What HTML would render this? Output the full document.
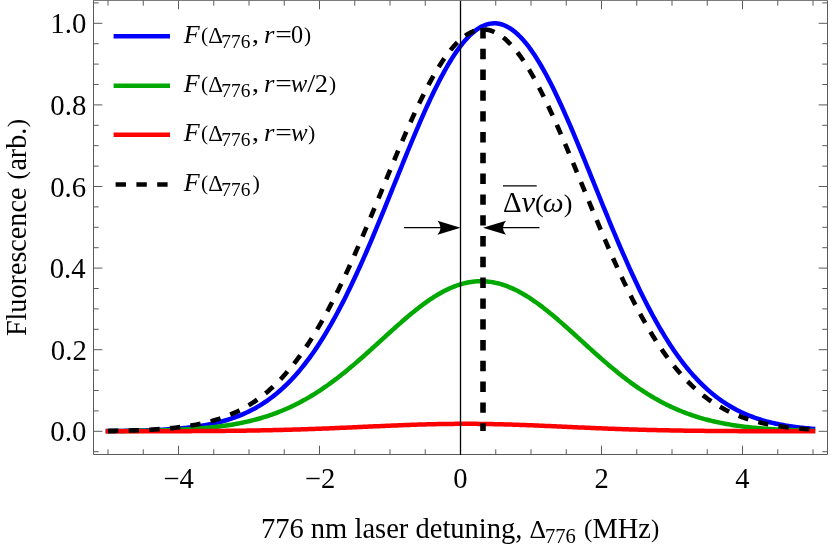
<!DOCTYPE html>
<html><head><meta charset="utf-8"><title>Fluorescence vs detuning</title>
<style>html,body{margin:0;padding:0;background:#fff;}body{width:830px;height:550px;overflow:hidden;font-family:"Liberation Serif",serif;}</style>
</head><body>
<svg width="830" height="550" viewBox="0 0 830 550" style="display:block">
<rect width="830" height="550" fill="#fff"/>
<path d="M108.00,431.07 L109.76,431.06 L111.52,431.04 L113.29,431.02 L115.05,431.00 L116.81,430.98 L118.58,430.96 L120.34,430.93 L122.10,430.91 L123.86,430.88 L125.62,430.86 L127.39,430.83 L129.15,430.79 L130.91,430.76 L132.67,430.72 L134.44,430.69 L136.20,430.65 L137.96,430.60 L139.73,430.56 L141.49,430.51 L143.25,430.46 L145.01,430.41 L146.77,430.35 L148.54,430.29 L150.30,430.22 L152.06,430.16 L153.83,430.09 L155.59,430.01 L157.35,429.93 L159.11,429.85 L160.88,429.76 L162.64,429.67 L164.40,429.57 L166.16,429.46 L167.92,429.35 L169.69,429.24 L171.45,429.12 L173.21,428.99 L174.98,428.86 L176.74,428.71 L178.50,428.56 L180.26,428.41 L182.02,428.24 L183.79,428.07 L185.55,427.89 L187.31,427.70 L189.08,427.50 L190.84,427.29 L192.60,427.07 L194.36,426.83 L196.12,426.59 L197.89,426.34 L199.65,426.07 L201.41,425.79 L203.18,425.50 L204.94,425.19 L206.70,424.88 L208.46,424.54 L210.23,424.19 L211.99,423.83 L213.75,423.44 L215.51,423.05 L217.27,422.63 L219.04,422.20 L220.80,421.74 L222.56,421.27 L224.33,420.78 L226.09,420.27 L227.85,419.73 L229.61,419.18 L231.38,418.60 L233.14,417.99 L234.90,417.37 L236.66,416.72 L238.43,416.04 L240.19,415.33 L241.95,414.60 L243.71,413.84 L245.48,413.05 L247.24,412.24 L249.00,411.39 L250.76,410.51 L252.53,409.60 L254.29,408.65 L256.05,407.67 L257.81,406.66 L259.57,405.61 L261.34,404.53 L263.10,403.40 L264.86,402.25 L266.62,401.05 L268.39,399.81 L270.15,398.53 L271.91,397.21 L273.68,395.85 L275.44,394.44 L277.20,392.99 L278.96,391.50 L280.73,389.96 L282.49,388.38 L284.25,386.74 L286.01,385.06 L287.77,383.34 L289.54,381.56 L291.30,379.73 L293.06,377.86 L294.83,375.93 L296.59,373.95 L298.35,371.92 L300.11,369.83 L301.88,367.69 L303.64,365.50 L305.40,363.25 L307.16,360.95 L308.93,358.60 L310.69,356.18 L312.45,353.72 L314.21,351.19 L315.98,348.61 L317.74,345.98 L319.50,343.28 L321.26,340.53 L323.02,337.72 L324.79,334.86 L326.55,331.94 L328.31,328.96 L330.08,325.93 L331.84,322.84 L333.60,319.70 L335.36,316.50 L337.12,313.24 L338.89,309.93 L340.65,306.57 L342.41,303.15 L344.18,299.68 L345.94,296.16 L347.70,292.59 L349.46,288.97 L351.23,285.30 L352.99,281.58 L354.75,277.81 L356.51,274.00 L358.28,270.14 L360.04,266.24 L361.80,262.30 L363.56,258.32 L365.33,254.30 L367.09,250.24 L368.85,246.15 L370.61,242.02 L372.38,237.87 L374.14,233.68 L375.90,229.47 L377.66,225.23 L379.43,220.96 L381.19,216.68 L382.95,212.37 L384.71,208.05 L386.48,203.72 L388.24,199.37 L390.00,195.01 L391.76,190.65 L393.52,186.28 L395.29,181.91 L397.05,177.55 L398.81,173.18 L400.58,168.82 L402.34,164.48 L404.10,160.14 L405.86,155.82 L407.62,151.52 L409.39,147.24 L411.15,142.99 L412.91,138.76 L414.68,134.56 L416.44,130.40 L418.20,126.27 L419.96,122.19 L421.73,118.14 L423.49,114.14 L425.25,110.19 L427.01,106.30 L428.77,102.45 L430.54,98.67 L432.30,94.95 L434.06,91.29 L435.83,87.70 L437.59,84.18 L439.35,80.73 L441.11,77.36 L442.88,74.07 L444.64,70.86 L446.40,67.73 L448.16,64.70 L449.93,61.75 L451.69,58.89 L453.45,56.13 L455.21,53.47 L456.98,50.90 L458.74,48.44 L460.50,46.08 L462.26,43.83 L464.03,41.69 L465.79,39.65 L467.55,37.73 L469.31,35.92 L471.08,34.23 L472.84,32.66 L474.60,31.20 L476.36,29.86 L478.12,28.65 L479.89,27.55 L481.65,26.58 L483.41,25.74 L485.18,25.02 L486.94,24.42 L488.70,23.95 L490.46,23.61 L492.23,23.39 L493.99,23.30 L495.75,23.34 L497.51,23.51 L499.28,23.80 L501.04,24.22 L502.80,24.76 L504.56,25.43 L506.33,26.23 L508.09,27.15 L509.85,28.19 L511.61,29.36 L513.38,30.65 L515.14,32.06 L516.90,33.59 L518.66,35.23 L520.43,36.99 L522.19,38.87 L523.95,40.86 L525.71,42.96 L527.48,45.17 L529.24,47.48 L531.00,49.90 L532.76,52.43 L534.53,55.05 L536.29,57.78 L538.05,60.59 L539.81,63.51 L541.58,66.51 L543.34,69.60 L545.10,72.78 L546.86,76.04 L548.62,79.38 L550.39,82.79 L552.15,86.28 L553.91,89.85 L555.68,93.48 L557.44,97.17 L559.20,100.93 L560.96,104.75 L562.73,108.63 L564.49,112.56 L566.25,116.54 L568.01,120.56 L569.78,124.63 L571.54,128.74 L573.30,132.89 L575.06,137.08 L576.83,141.29 L578.59,145.54 L580.35,149.81 L582.11,154.10 L583.88,158.41 L585.64,162.74 L587.40,167.08 L589.16,171.44 L590.93,175.80 L592.69,180.17 L594.45,184.53 L596.21,188.90 L597.98,193.27 L599.74,197.63 L601.50,201.98 L603.26,206.32 L605.03,210.65 L606.79,214.96 L608.55,219.25 L610.31,223.52 L612.08,227.77 L613.84,232.00 L615.60,236.20 L617.36,240.37 L619.12,244.50 L620.89,248.61 L622.65,252.68 L624.41,256.72 L626.18,260.71 L627.94,264.67 L629.70,268.59 L631.46,272.46 L633.23,276.29 L634.99,280.07 L636.75,283.81 L638.51,287.50 L640.28,291.15 L642.04,294.74 L643.80,298.28 L645.56,301.77 L647.33,305.21 L649.09,308.59 L650.85,311.92 L652.61,315.20 L654.38,318.42 L656.14,321.59 L657.90,324.70 L659.66,327.76 L661.43,330.76 L663.19,333.70 L664.95,336.59 L666.71,339.42 L668.48,342.19 L670.24,344.90 L672.00,347.56 L673.76,350.17 L675.53,352.71 L677.29,355.20 L679.05,357.64 L680.81,360.02 L682.58,362.34 L684.34,364.61 L686.10,366.82 L687.86,368.98 L689.62,371.09 L691.39,373.14 L693.15,375.14 L694.91,377.09 L696.67,378.99 L698.44,380.83 L700.20,382.63 L701.96,384.38 L703.73,386.08 L705.49,387.73 L707.25,389.33 L709.01,390.89 L710.78,392.40 L712.54,393.87 L714.30,395.29 L716.06,396.67 L717.83,398.01 L719.59,399.30 L721.35,400.56 L723.11,401.77 L724.88,402.95 L726.64,404.08 L728.40,405.18 L730.16,406.25 L731.92,407.27 L733.69,408.26 L735.45,409.22 L737.21,410.15 L738.98,411.04 L740.74,411.90 L742.50,412.73 L744.26,413.53 L746.03,414.30 L747.79,415.04 L749.55,415.76 L751.31,416.45 L753.08,417.11 L754.84,417.75 L756.60,418.36 L758.36,418.95 L760.12,419.51 L761.89,420.06 L763.65,420.58 L765.41,421.08 L767.17,421.56 L768.94,422.02 L770.70,422.46 L772.46,422.88 L774.23,423.29 L775.99,423.68 L777.75,424.05 L779.51,424.40 L781.28,424.74 L783.04,425.07 L784.80,425.38 L786.56,425.68 L788.33,425.96 L790.09,426.23 L791.85,426.49 L793.61,426.74 L795.38,426.97 L797.14,427.20 L798.90,427.41 L800.66,427.62 L802.43,427.81 L804.19,428.00 L805.95,428.17 L807.71,428.34 L809.48,428.50 L811.24,428.65 L813.00,428.80" fill="none" stroke="#0000ff" stroke-width="4.5" stroke-linejoin="round" stroke-linecap="square"/>
<path d="M108.00,431.16 L109.76,431.15 L111.52,431.14 L113.29,431.13 L115.05,431.12 L116.81,431.11 L118.58,431.09 L120.34,431.08 L122.10,431.07 L123.86,431.05 L125.62,431.03 L127.39,431.02 L129.15,431.00 L130.91,430.98 L132.67,430.96 L134.44,430.94 L136.20,430.91 L137.96,430.89 L139.73,430.87 L141.49,430.84 L143.25,430.81 L145.01,430.78 L146.77,430.75 L148.54,430.71 L150.30,430.68 L152.06,430.64 L153.83,430.60 L155.59,430.56 L157.35,430.52 L159.11,430.47 L160.88,430.42 L162.64,430.37 L164.40,430.32 L166.16,430.26 L167.92,430.20 L169.69,430.14 L171.45,430.08 L173.21,430.01 L174.98,429.93 L176.74,429.86 L178.50,429.78 L180.26,429.70 L182.02,429.61 L183.79,429.52 L185.55,429.42 L187.31,429.32 L189.08,429.21 L190.84,429.10 L192.60,428.99 L194.36,428.87 L196.12,428.74 L197.89,428.61 L199.65,428.47 L201.41,428.33 L203.18,428.18 L204.94,428.02 L206.70,427.86 L208.46,427.69 L210.23,427.51 L211.99,427.33 L213.75,427.13 L215.51,426.93 L217.27,426.72 L219.04,426.51 L220.80,426.28 L222.56,426.04 L224.33,425.80 L226.09,425.54 L227.85,425.28 L229.61,425.00 L231.38,424.72 L233.14,424.42 L234.90,424.12 L236.66,423.80 L238.43,423.47 L240.19,423.12 L241.95,422.77 L243.71,422.40 L245.48,422.02 L247.24,421.63 L249.00,421.22 L250.76,420.80 L252.53,420.37 L254.29,419.92 L256.05,419.46 L257.81,418.98 L259.57,418.48 L261.34,417.97 L263.10,417.45 L264.86,416.90 L266.62,416.35 L268.39,415.77 L270.15,415.18 L271.91,414.57 L273.68,413.94 L275.44,413.29 L277.20,412.63 L278.96,411.95 L280.73,411.25 L282.49,410.53 L284.25,409.79 L286.01,409.03 L287.77,408.25 L289.54,407.46 L291.30,406.64 L293.06,405.80 L294.83,404.94 L296.59,404.06 L298.35,403.17 L300.11,402.25 L301.88,401.31 L303.64,400.35 L305.40,399.36 L307.16,398.36 L308.93,397.34 L310.69,396.29 L312.45,395.23 L314.21,394.14 L315.98,393.04 L317.74,391.91 L319.50,390.76 L321.26,389.59 L323.02,388.40 L324.79,387.20 L326.55,385.97 L328.31,384.72 L330.08,383.45 L331.84,382.16 L333.60,380.86 L335.36,379.53 L337.12,378.19 L338.89,376.83 L340.65,375.45 L342.41,374.06 L344.18,372.65 L345.94,371.22 L347.70,369.78 L349.46,368.32 L351.23,366.85 L352.99,365.36 L354.75,363.86 L356.51,362.35 L358.28,360.82 L360.04,359.29 L361.80,357.74 L363.56,356.19 L365.33,354.62 L367.09,353.05 L368.85,351.47 L370.61,349.88 L372.38,348.29 L374.14,346.69 L375.90,345.09 L377.66,343.48 L379.43,341.88 L381.19,340.27 L382.95,338.66 L384.71,337.06 L386.48,335.45 L388.24,333.85 L390.00,332.26 L391.76,330.66 L393.52,329.08 L395.29,327.50 L397.05,325.93 L398.81,324.37 L400.58,322.82 L402.34,321.29 L404.10,319.76 L405.86,318.25 L407.62,316.76 L409.39,315.28 L411.15,313.82 L412.91,312.37 L414.68,310.95 L416.44,309.55 L418.20,308.17 L419.96,306.81 L421.73,305.48 L423.49,304.18 L425.25,302.90 L427.01,301.64 L428.77,300.42 L430.54,299.22 L432.30,298.06 L434.06,296.93 L435.83,295.83 L437.59,294.76 L439.35,293.73 L441.11,292.73 L442.88,291.77 L444.64,290.85 L446.40,289.97 L448.16,289.12 L449.93,288.31 L451.69,287.55 L453.45,286.82 L455.21,286.14 L456.98,285.50 L458.74,284.90 L460.50,284.34 L462.26,283.83 L464.03,283.37 L465.79,282.94 L467.55,282.57 L469.31,282.23 L471.08,281.95 L472.84,281.71 L474.60,281.52 L476.36,281.37 L478.12,281.27 L479.89,281.21 L481.65,281.21 L483.41,281.25 L485.18,281.33 L486.94,281.47 L488.70,281.65 L490.46,281.87 L492.23,282.15 L493.99,282.47 L495.75,282.83 L497.51,283.24 L499.28,283.69 L501.04,284.19 L502.80,284.73 L504.56,285.32 L506.33,285.95 L508.09,286.62 L509.85,287.33 L511.61,288.09 L513.38,288.88 L515.14,289.72 L516.90,290.59 L518.66,291.50 L520.43,292.45 L522.19,293.44 L523.95,294.46 L525.71,295.51 L527.48,296.60 L529.24,297.73 L531.00,298.88 L532.76,300.07 L534.53,301.28 L536.29,302.53 L538.05,303.80 L539.81,305.10 L541.58,306.42 L543.34,307.77 L545.10,309.15 L546.86,310.54 L548.62,311.96 L550.39,313.39 L552.15,314.85 L553.91,316.32 L555.68,317.81 L557.44,319.32 L559.20,320.84 L560.96,322.37 L562.73,323.92 L564.49,325.48 L566.25,327.04 L568.01,328.62 L569.78,330.20 L571.54,331.79 L573.30,333.39 L575.06,334.99 L576.83,336.59 L578.59,338.20 L580.35,339.80 L582.11,341.41 L583.88,343.02 L585.64,344.62 L587.40,346.22 L589.16,347.82 L590.93,349.42 L592.69,351.01 L594.45,352.59 L596.21,354.16 L597.98,355.73 L599.74,357.29 L601.50,358.84 L603.26,360.38 L605.03,361.90 L606.79,363.42 L608.55,364.92 L610.31,366.41 L612.08,367.89 L613.84,369.35 L615.60,370.80 L617.36,372.23 L619.12,373.65 L620.89,375.05 L622.65,376.43 L624.41,377.80 L626.18,379.15 L627.94,380.48 L629.70,381.79 L631.46,383.08 L633.23,384.35 L634.99,385.61 L636.75,386.84 L638.51,388.06 L640.28,389.25 L642.04,390.42 L643.80,391.58 L645.56,392.71 L647.33,393.82 L649.09,394.92 L650.85,395.99 L652.61,397.04 L654.38,398.07 L656.14,399.07 L657.90,400.06 L659.66,401.03 L661.43,401.97 L663.19,402.90 L664.95,403.80 L666.71,404.69 L668.48,405.55 L670.24,406.40 L672.00,407.22 L673.76,408.02 L675.53,408.81 L677.29,409.57 L679.05,410.31 L680.81,411.04 L682.58,411.75 L684.34,412.43 L686.10,413.10 L687.86,413.75 L689.62,414.39 L691.39,415.00 L693.15,415.60 L694.91,416.18 L696.67,416.74 L698.44,417.29 L700.20,417.82 L701.96,418.34 L703.73,418.83 L705.49,419.32 L707.25,419.79 L709.01,420.24 L710.78,420.68 L712.54,421.10 L714.30,421.51 L716.06,421.91 L717.83,422.29 L719.59,422.66 L721.35,423.02 L723.11,423.37 L724.88,423.70 L726.64,424.02 L728.40,424.33 L730.16,424.63 L731.92,424.92 L733.69,425.20 L735.45,425.47 L737.21,425.72 L738.98,425.97 L740.74,426.21 L742.50,426.44 L744.26,426.66 L746.03,426.87 L747.79,427.08 L749.55,427.27 L751.31,427.46 L753.08,427.64 L754.84,427.81 L756.60,427.98 L758.36,428.13 L760.12,428.29 L761.89,428.43 L763.65,428.57 L765.41,428.71 L767.17,428.83 L768.94,428.95 L770.70,429.07 L772.46,429.18 L774.23,429.29 L775.99,429.39 L777.75,429.49 L779.51,429.58 L781.28,429.67 L783.04,429.76 L784.80,429.84 L786.56,429.91 L788.33,429.99 L790.09,430.06 L791.85,430.12 L793.61,430.18 L795.38,430.25 L797.14,430.30 L798.90,430.36 L800.66,430.41 L802.43,430.46 L804.19,430.50 L805.95,430.55 L807.71,430.59 L809.48,430.63 L811.24,430.67 L813.00,430.70" fill="none" stroke="#00a800" stroke-width="4.5" stroke-linejoin="round" stroke-linecap="square"/>
<path d="M108.00,431.29 L109.76,431.29 L111.52,431.29 L113.29,431.28 L115.05,431.28 L116.81,431.28 L118.58,431.28 L120.34,431.28 L122.10,431.28 L123.86,431.28 L125.62,431.28 L127.39,431.28 L129.15,431.27 L130.91,431.27 L132.67,431.27 L134.44,431.27 L136.20,431.27 L137.96,431.27 L139.73,431.26 L141.49,431.26 L143.25,431.26 L145.01,431.26 L146.77,431.25 L148.54,431.25 L150.30,431.25 L152.06,431.25 L153.83,431.24 L155.59,431.24 L157.35,431.24 L159.11,431.23 L160.88,431.23 L162.64,431.22 L164.40,431.22 L166.16,431.22 L167.92,431.21 L169.69,431.21 L171.45,431.20 L173.21,431.20 L174.98,431.19 L176.74,431.18 L178.50,431.18 L180.26,431.17 L182.02,431.17 L183.79,431.16 L185.55,431.15 L187.31,431.14 L189.08,431.14 L190.84,431.13 L192.60,431.12 L194.36,431.11 L196.12,431.10 L197.89,431.09 L199.65,431.08 L201.41,431.07 L203.18,431.06 L204.94,431.05 L206.70,431.04 L208.46,431.03 L210.23,431.01 L211.99,431.00 L213.75,430.99 L215.51,430.97 L217.27,430.96 L219.04,430.94 L220.80,430.93 L222.56,430.91 L224.33,430.89 L226.09,430.87 L227.85,430.86 L229.61,430.84 L231.38,430.82 L233.14,430.80 L234.90,430.78 L236.66,430.75 L238.43,430.73 L240.19,430.71 L241.95,430.69 L243.71,430.66 L245.48,430.64 L247.24,430.61 L249.00,430.58 L250.76,430.55 L252.53,430.53 L254.29,430.50 L256.05,430.47 L257.81,430.43 L259.57,430.40 L261.34,430.37 L263.10,430.33 L264.86,430.30 L266.62,430.26 L268.39,430.23 L270.15,430.19 L271.91,430.15 L273.68,430.11 L275.44,430.07 L277.20,430.03 L278.96,429.99 L280.73,429.94 L282.49,429.90 L284.25,429.85 L286.01,429.80 L287.77,429.76 L289.54,429.71 L291.30,429.66 L293.06,429.61 L294.83,429.55 L296.59,429.50 L298.35,429.45 L300.11,429.39 L301.88,429.34 L303.64,429.28 L305.40,429.22 L307.16,429.16 L308.93,429.10 L310.69,429.04 L312.45,428.98 L314.21,428.91 L315.98,428.85 L317.74,428.79 L319.50,428.72 L321.26,428.65 L323.02,428.58 L324.79,428.52 L326.55,428.45 L328.31,428.38 L330.08,428.31 L331.84,428.23 L333.60,428.16 L335.36,428.09 L337.12,428.01 L338.89,427.94 L340.65,427.86 L342.41,427.79 L344.18,427.71 L345.94,427.63 L347.70,427.56 L349.46,427.48 L351.23,427.40 L352.99,427.32 L354.75,427.24 L356.51,427.16 L358.28,427.08 L360.04,427.00 L361.80,426.92 L363.56,426.84 L365.33,426.76 L367.09,426.68 L368.85,426.60 L370.61,426.52 L372.38,426.44 L374.14,426.37 L375.90,426.29 L377.66,426.21 L379.43,426.13 L381.19,426.05 L382.95,425.97 L384.71,425.90 L386.48,425.82 L388.24,425.74 L390.00,425.67 L391.76,425.59 L393.52,425.52 L395.29,425.45 L397.05,425.38 L398.81,425.30 L400.58,425.24 L402.34,425.17 L404.10,425.10 L405.86,425.03 L407.62,424.97 L409.39,424.90 L411.15,424.84 L412.91,424.78 L414.68,424.72 L416.44,424.66 L418.20,424.61 L419.96,424.55 L421.73,424.50 L423.49,424.45 L425.25,424.40 L427.01,424.35 L428.77,424.31 L430.54,424.26 L432.30,424.22 L434.06,424.18 L435.83,424.14 L437.59,424.11 L439.35,424.07 L441.11,424.04 L442.88,424.01 L444.64,423.98 L446.40,423.96 L448.16,423.93 L449.93,423.91 L451.69,423.89 L453.45,423.88 L455.21,423.86 L456.98,423.85 L458.74,423.84 L460.50,423.84 L462.26,423.83 L464.03,423.83 L465.79,423.83 L467.55,423.83 L469.31,423.83 L471.08,423.84 L472.84,423.85 L474.60,423.86 L476.36,423.87 L478.12,423.89 L479.89,423.91 L481.65,423.93 L483.41,423.95 L485.18,423.98 L486.94,424.00 L488.70,424.03 L490.46,424.06 L492.23,424.10 L493.99,424.13 L495.75,424.17 L497.51,424.21 L499.28,424.25 L501.04,424.30 L502.80,424.34 L504.56,424.39 L506.33,424.44 L508.09,424.49 L509.85,424.54 L511.61,424.60 L513.38,424.65 L515.14,424.71 L516.90,424.77 L518.66,424.83 L520.43,424.89 L522.19,424.96 L523.95,425.02 L525.71,425.09 L527.48,425.15 L529.24,425.22 L531.00,425.29 L532.76,425.36 L534.53,425.43 L536.29,425.51 L538.05,425.58 L539.81,425.65 L541.58,425.73 L543.34,425.80 L545.10,425.88 L546.86,425.96 L548.62,426.04 L550.39,426.11 L552.15,426.19 L553.91,426.27 L555.68,426.35 L557.44,426.43 L559.20,426.51 L560.96,426.59 L562.73,426.67 L564.49,426.75 L566.25,426.83 L568.01,426.91 L569.78,426.99 L571.54,427.07 L573.30,427.15 L575.06,427.23 L576.83,427.31 L578.59,427.38 L580.35,427.46 L582.11,427.54 L583.88,427.62 L585.64,427.70 L587.40,427.77 L589.16,427.85 L590.93,427.92 L592.69,428.00 L594.45,428.07 L596.21,428.15 L597.98,428.22 L599.74,428.29 L601.50,428.36 L603.26,428.43 L605.03,428.50 L606.79,428.57 L608.55,428.64 L610.31,428.71 L612.08,428.77 L613.84,428.84 L615.60,428.90 L617.36,428.97 L619.12,429.03 L620.89,429.09 L622.65,429.15 L624.41,429.21 L626.18,429.27 L627.94,429.33 L629.70,429.38 L631.46,429.44 L633.23,429.49 L634.99,429.54 L636.75,429.60 L638.51,429.65 L640.28,429.70 L642.04,429.75 L643.80,429.80 L645.56,429.84 L647.33,429.89 L649.09,429.93 L650.85,429.98 L652.61,430.02 L654.38,430.06 L656.14,430.10 L657.90,430.14 L659.66,430.18 L661.43,430.22 L663.19,430.26 L664.95,430.29 L666.71,430.33 L668.48,430.36 L670.24,430.40 L672.00,430.43 L673.76,430.46 L675.53,430.49 L677.29,430.52 L679.05,430.55 L680.81,430.58 L682.58,430.60 L684.34,430.63 L686.10,430.66 L687.86,430.68 L689.62,430.70 L691.39,430.73 L693.15,430.75 L694.91,430.77 L696.67,430.79 L698.44,430.81 L700.20,430.83 L701.96,430.85 L703.73,430.87 L705.49,430.89 L707.25,430.91 L709.01,430.92 L710.78,430.94 L712.54,430.95 L714.30,430.97 L716.06,430.98 L717.83,431.00 L719.59,431.01 L721.35,431.02 L723.11,431.04 L724.88,431.05 L726.64,431.06 L728.40,431.07 L730.16,431.08 L731.92,431.09 L733.69,431.10 L735.45,431.11 L737.21,431.12 L738.98,431.13 L740.74,431.13 L742.50,431.14 L744.26,431.15 L746.03,431.16 L747.79,431.16 L749.55,431.17 L751.31,431.18 L753.08,431.18 L754.84,431.19 L756.60,431.19 L758.36,431.20 L760.12,431.21 L761.89,431.21 L763.65,431.21 L765.41,431.22 L767.17,431.22 L768.94,431.23 L770.70,431.23 L772.46,431.23 L774.23,431.24 L775.99,431.24 L777.75,431.24 L779.51,431.25 L781.28,431.25 L783.04,431.25 L784.80,431.26 L786.56,431.26 L788.33,431.26 L790.09,431.26 L791.85,431.26 L793.61,431.27 L795.38,431.27 L797.14,431.27 L798.90,431.27 L800.66,431.27 L802.43,431.28 L804.19,431.28 L805.95,431.28 L807.71,431.28 L809.48,431.28 L811.24,431.28 L813.00,431.28" fill="none" stroke="#ff0000" stroke-width="4.5" stroke-linejoin="round" stroke-linecap="square"/>
<path d="M108.00,430.94 L109.76,430.91 L111.52,430.89 L113.29,430.86 L115.05,430.83 L116.81,430.80 L118.58,430.76 L120.34,430.73 L122.10,430.69 L123.86,430.65 L125.62,430.61 L127.39,430.57 L129.15,430.52 L130.91,430.47 L132.67,430.42 L134.44,430.36 L136.20,430.30 L137.96,430.24 L139.73,430.17 L141.49,430.10 L143.25,430.03 L145.01,429.95 L146.77,429.87 L148.54,429.78 L150.30,429.69 L152.06,429.59 L153.83,429.49 L155.59,429.38 L157.35,429.27 L159.11,429.15 L160.88,429.02 L162.64,428.89 L164.40,428.75 L166.16,428.61 L167.92,428.45 L169.69,428.29 L171.45,428.12 L173.21,427.94 L174.98,427.76 L176.74,427.56 L178.50,427.35 L180.26,427.14 L182.02,426.91 L183.79,426.67 L185.55,426.42 L187.31,426.16 L189.08,425.89 L190.84,425.60 L192.60,425.31 L194.36,424.99 L196.12,424.67 L197.89,424.32 L199.65,423.97 L201.41,423.59 L203.18,423.20 L204.94,422.80 L206.70,422.37 L208.46,421.93 L210.23,421.47 L211.99,420.99 L213.75,420.49 L215.51,419.96 L217.27,419.42 L219.04,418.85 L220.80,418.26 L222.56,417.65 L224.33,417.02 L226.09,416.35 L227.85,415.67 L229.61,414.95 L231.38,414.21 L233.14,413.44 L234.90,412.64 L236.66,411.81 L238.43,410.95 L240.19,410.06 L241.95,409.14 L243.71,408.19 L245.48,407.20 L247.24,406.17 L249.00,405.11 L250.76,404.02 L252.53,402.89 L254.29,401.72 L256.05,400.51 L257.81,399.26 L259.57,397.97 L261.34,396.64 L263.10,395.27 L264.86,393.86 L266.62,392.40 L268.39,390.90 L270.15,389.35 L271.91,387.76 L273.68,386.12 L275.44,384.44 L277.20,382.70 L278.96,380.92 L280.73,379.09 L282.49,377.21 L284.25,375.28 L286.01,373.30 L287.77,371.26 L289.54,369.18 L291.30,367.04 L293.06,364.84 L294.83,362.60 L296.59,360.30 L298.35,357.95 L300.11,355.54 L301.88,353.08 L303.64,350.56 L305.40,347.99 L307.16,345.36 L308.93,342.67 L310.69,339.93 L312.45,337.14 L314.21,334.29 L315.98,331.38 L317.74,328.42 L319.50,325.41 L321.26,322.33 L323.02,319.21 L324.79,316.03 L326.55,312.80 L328.31,309.51 L330.08,306.18 L331.84,302.79 L333.60,299.35 L335.36,295.86 L337.12,292.32 L338.89,288.73 L340.65,285.09 L342.41,281.41 L344.18,277.68 L345.94,273.91 L347.70,270.10 L349.46,266.25 L351.23,262.35 L352.99,258.42 L354.75,254.45 L356.51,250.44 L358.28,246.41 L360.04,242.34 L361.80,238.24 L363.56,234.11 L365.33,229.96 L367.09,225.78 L368.85,221.58 L370.61,217.36 L372.38,213.13 L374.14,208.87 L375.90,204.61 L377.66,200.34 L379.43,196.06 L381.19,191.77 L382.95,187.48 L384.71,183.19 L386.48,178.91 L388.24,174.62 L390.00,170.35 L391.76,166.09 L393.52,161.84 L395.29,157.61 L397.05,153.40 L398.81,149.21 L400.58,145.05 L402.34,140.91 L404.10,136.81 L405.86,132.74 L407.62,128.71 L409.39,124.72 L411.15,120.77 L412.91,116.87 L414.68,113.02 L416.44,109.22 L418.20,105.48 L419.96,101.79 L421.73,98.17 L423.49,94.61 L425.25,91.12 L427.01,87.70 L428.77,84.35 L430.54,81.08 L432.30,77.89 L434.06,74.77 L435.83,71.75 L437.59,68.80 L439.35,65.95 L441.11,63.19 L442.88,60.52 L444.64,57.95 L446.40,55.48 L448.16,53.11 L449.93,50.84 L451.69,48.68 L453.45,46.62 L455.21,44.67 L456.98,42.84 L458.74,41.11 L460.50,39.50 L462.26,38.00 L464.03,36.62 L465.79,35.36 L467.55,34.22 L469.31,33.19 L471.08,32.29 L472.84,31.51 L474.60,30.85 L476.36,30.32 L478.12,29.91 L479.89,29.62 L481.65,29.46 L483.41,29.42 L485.18,29.51 L486.94,29.72 L488.70,30.05 L490.46,30.51 L492.23,31.09 L493.99,31.80 L495.75,32.62 L497.51,33.57 L499.28,34.64 L501.04,35.83 L502.80,37.14 L504.56,38.56 L506.33,40.10 L508.09,41.76 L509.85,43.53 L511.61,45.41 L513.38,47.40 L515.14,49.50 L516.90,51.70 L518.66,54.01 L520.43,56.42 L522.19,58.93 L523.95,61.54 L525.71,64.24 L527.48,67.04 L529.24,69.92 L531.00,72.90 L532.76,75.96 L534.53,79.11 L536.29,82.33 L538.05,85.63 L539.81,89.01 L541.58,92.46 L543.34,95.98 L545.10,99.56 L546.86,103.21 L548.62,106.91 L550.39,110.68 L552.15,114.50 L553.91,118.37 L555.68,122.29 L557.44,126.26 L559.20,130.26 L560.96,134.31 L562.73,138.39 L564.49,142.51 L566.25,146.66 L568.01,150.83 L569.78,155.03 L571.54,159.25 L573.30,163.49 L575.06,167.74 L576.83,172.01 L578.59,176.29 L580.35,180.57 L582.11,184.86 L583.88,189.15 L585.64,193.44 L587.40,197.72 L589.16,202.00 L590.93,206.27 L592.69,210.53 L594.45,214.78 L596.21,219.01 L597.98,223.22 L599.74,227.41 L601.50,231.58 L603.26,235.73 L605.03,239.84 L606.79,243.93 L608.55,247.99 L610.31,252.02 L612.08,256.01 L613.84,259.97 L615.60,263.89 L617.36,267.77 L619.12,271.61 L620.89,275.40 L622.65,279.16 L624.41,282.87 L626.18,286.53 L627.94,290.15 L629.70,293.72 L631.46,297.24 L633.23,300.71 L634.99,304.13 L636.75,307.50 L638.51,310.82 L640.28,314.09 L642.04,317.30 L643.80,320.46 L645.56,323.56 L647.33,326.61 L649.09,329.61 L650.85,332.55 L652.61,335.43 L654.38,338.26 L656.14,341.03 L657.90,343.75 L659.66,346.42 L661.43,349.02 L663.19,351.57 L664.95,354.07 L666.71,356.51 L668.48,358.90 L670.24,361.23 L672.00,363.51 L673.76,365.73 L675.53,367.91 L677.29,370.02 L679.05,372.09 L680.81,374.10 L682.58,376.07 L684.34,377.98 L686.10,379.84 L687.86,381.65 L689.62,383.41 L691.39,385.13 L693.15,386.80 L694.91,388.42 L696.67,389.99 L698.44,391.52 L700.20,393.00 L701.96,394.44 L703.73,395.84 L705.49,397.19 L707.25,398.51 L709.01,399.78 L710.78,401.01 L712.54,402.20 L714.30,403.36 L716.06,404.48 L717.83,405.56 L719.59,406.60 L721.35,407.61 L723.11,408.59 L724.88,409.53 L726.64,410.44 L728.40,411.31 L730.16,412.16 L731.92,412.98 L733.69,413.76 L735.45,414.52 L737.21,415.25 L738.98,415.96 L740.74,416.63 L742.50,417.29 L744.26,417.91 L746.03,418.52 L747.79,419.10 L749.55,419.65 L751.31,420.19 L753.08,420.70 L754.84,421.19 L756.60,421.67 L758.36,422.12 L760.12,422.55 L761.89,422.97 L763.65,423.37 L765.41,423.75 L767.17,424.12 L768.94,424.47 L770.70,424.81 L772.46,425.13 L774.23,425.44 L775.99,425.73 L777.75,426.01 L779.51,426.28 L781.28,426.53 L783.04,426.78 L784.80,427.01 L786.56,427.23 L788.33,427.44 L790.09,427.65 L791.85,427.84 L793.61,428.02 L795.38,428.20 L797.14,428.36 L798.90,428.52 L800.66,428.67 L802.43,428.82 L804.19,428.95 L805.95,429.08 L807.71,429.20 L809.48,429.32 L811.24,429.43 L813.00,429.54" fill="none" stroke="#000" stroke-width="4.6" stroke-dasharray="10.335 10.335" stroke-linejoin="round"/>
<line x1="483" y1="28" x2="483" y2="431" stroke="#000" stroke-width="5.6" stroke-dasharray="10.4 10.4"/>
<path d="M93.5,0.0V454.5H827.5V0.0" fill="none" stroke="#5a5a5a" stroke-width="1"/>
<line x1="93.0" y1="0.5" x2="828.0" y2="0.5" stroke="#7c7c7c" stroke-width="1"/>
<path d="M108.00,454.5v-5.2M108.00,0.5v5.2M143.25,454.5v-5.2M143.25,0.5v5.2M178.50,454.5v-8.8M178.50,0.5v8.8M213.75,454.5v-5.2M213.75,0.5v5.2M249.00,454.5v-5.2M249.00,0.5v5.2M284.25,454.5v-5.2M284.25,0.5v5.2M319.50,454.5v-8.8M319.50,0.5v8.8M354.75,454.5v-5.2M354.75,0.5v5.2M390.00,454.5v-5.2M390.00,0.5v5.2M425.25,454.5v-5.2M425.25,0.5v5.2M460.50,454.5v-8.8M460.50,0.5v8.8M495.75,454.5v-5.2M495.75,0.5v5.2M531.00,454.5v-5.2M531.00,0.5v5.2M566.25,454.5v-5.2M566.25,0.5v5.2M601.50,454.5v-8.8M601.50,0.5v8.8M636.75,454.5v-5.2M636.75,0.5v5.2M672.00,454.5v-5.2M672.00,0.5v5.2M707.25,454.5v-5.2M707.25,0.5v5.2M742.50,454.5v-8.8M742.50,0.5v8.8M777.75,454.5v-5.2M777.75,0.5v5.2M813.00,454.5v-5.2M813.00,0.5v5.2M93.5,451.70h5.2M827.5,451.70h-5.2M93.5,431.30h8.8M827.5,431.30h-8.8M93.5,410.90h5.2M827.5,410.90h-5.2M93.5,390.50h5.2M827.5,390.50h-5.2M93.5,370.10h5.2M827.5,370.10h-5.2M93.5,349.70h8.8M827.5,349.70h-8.8M93.5,329.30h5.2M827.5,329.30h-5.2M93.5,308.90h5.2M827.5,308.90h-5.2M93.5,288.50h5.2M827.5,288.50h-5.2M93.5,268.10h8.8M827.5,268.10h-8.8M93.5,247.70h5.2M827.5,247.70h-5.2M93.5,227.30h5.2M827.5,227.30h-5.2M93.5,206.90h5.2M827.5,206.90h-5.2M93.5,186.50h8.8M827.5,186.50h-8.8M93.5,166.10h5.2M827.5,166.10h-5.2M93.5,145.70h5.2M827.5,145.70h-5.2M93.5,125.30h5.2M827.5,125.30h-5.2M93.5,104.90h8.8M827.5,104.90h-8.8M93.5,84.50h5.2M827.5,84.50h-5.2M93.5,64.10h5.2M827.5,64.10h-5.2M93.5,43.70h5.2M827.5,43.70h-5.2M93.5,23.30h8.8M827.5,23.30h-8.8M93.5,2.90h5.2M827.5,2.90h-5.2" stroke="#5a5a5a" stroke-width="1" fill="none"/>
<line x1="460.5" y1="1" x2="460.5" y2="455.0" stroke="#000" stroke-width="1.3"/>
<g font-family="'Liberation Serif', serif" fill="#000" opacity="0.999">
<text transform="translate(50.37,441.40) scale(1.005,1)" font-size="28.6">0.0</text>
<text transform="translate(50.86,359.80) scale(1.005,1)" font-size="28.6">0.2</text>
<text transform="translate(49.72,278.20) scale(1.005,1)" font-size="28.6">0.4</text>
<text transform="translate(50.13,196.60) scale(1.005,1)" font-size="28.6">0.6</text>
<text transform="translate(50.37,115.00) scale(1.005,1)" font-size="28.6">0.8</text>
<text transform="translate(50.37,33.40) scale(1.005,1)" font-size="28.6">1.0</text>
<text transform="translate(163.30,487.60) scale(1.000,1)" font-size="28.6">−4</text>
<text transform="translate(304.86,487.60) scale(1.000,1)" font-size="28.6">−2</text>
<text transform="translate(453.35,487.60) scale(1.000,1)" font-size="28.6">0</text>
<text transform="translate(594.51,487.60) scale(1.000,1)" font-size="28.6">2</text>
<text transform="translate(735.29,487.60) scale(1.000,1)" font-size="28.6">4</text>
<text transform="translate(260.92,537.70) scale(0.998,1)" font-size="28.6">776 nm laser detuning,</text>
<text transform="translate(529.42,537.70) scale(0.990,1)" font-size="26">Δ</text>
<text transform="translate(544.94,542.80) scale(1.004,1)" font-size="20.5">776</text>
<text transform="translate(583.90,536.50) scale(1.001,1)" font-size="24.9">(</text>
<text transform="translate(592.38,537.70) scale(0.994,1)" font-size="28.6">MHz</text>
<text transform="translate(651.00,536.50) scale(1.001,1)" font-size="24.9">)</text>
<text transform="translate(26.30,336.11) rotate(-90) scale(0.985,1)" font-size="28.6">Fluorescence</text>
<text transform="translate(25.00,179.60) rotate(-90) scale(1.001,1)" font-size="24.9">(</text>
<text transform="translate(26.30,170.59) rotate(-90) scale(0.981,1)" font-size="28.6">arb.</text>
<text transform="translate(25.00,127.20) rotate(-90) scale(1.001,1)" font-size="24.9">)</text>
<line x1="113.6" y1="36.3" x2="170" y2="36.3" stroke="#0000ff" stroke-width="4.5"/>
<line x1="113.6" y1="85.8" x2="170" y2="85.8" stroke="#00a800" stroke-width="4.5"/>
<line x1="113.6" y1="134.8" x2="170" y2="134.8" stroke="#ff0000" stroke-width="4.5"/>
<line x1="115.6" y1="184.5" x2="170" y2="184.5" stroke="#000" stroke-width="4.6" stroke-dasharray="10.4 10.4"/>
<text transform="translate(183.84,42.50) scale(1.036,1)" font-size="25.2" font-style="italic">F</text>
<text transform="translate(201.06,41.60) scale(0.991,1)" font-size="21.6">(</text>
<text transform="translate(208.13,42.50) scale(0.979,1)" font-size="23.4">Δ</text>
<text transform="translate(221.32,47.50) scale(1.047,1)" font-size="18.5">776</text>
<text transform="translate(251.77,42.50) scale(1.172,1)" font-size="25.2">,</text>
<text transform="translate(264.12,42.50) scale(1.061,1)" font-size="25.2" font-style="italic">r</text>
<text transform="translate(275.13,42.50) scale(1.168,1)" font-size="25.2">=</text>
<text transform="translate(291.07,42.50) scale(0.964,1)" font-size="25.2">0</text>
<text transform="translate(304.11,41.60) scale(0.991,1)" font-size="21.6">)</text>
<text transform="translate(183.84,92.00) scale(1.036,1)" font-size="25.2" font-style="italic">F</text>
<text transform="translate(201.06,91.10) scale(0.991,1)" font-size="21.6">(</text>
<text transform="translate(208.13,92.00) scale(0.979,1)" font-size="23.4">Δ</text>
<text transform="translate(221.32,97.00) scale(1.047,1)" font-size="18.5">776</text>
<text transform="translate(251.77,92.00) scale(1.172,1)" font-size="25.2">,</text>
<text transform="translate(264.12,92.00) scale(1.061,1)" font-size="25.2" font-style="italic">r</text>
<text transform="translate(275.13,92.00) scale(1.168,1)" font-size="25.2">=</text>
<text transform="translate(290.71,92.00) scale(0.980,1)" font-size="25.2" font-style="italic">w</text>
<text transform="translate(307.20,92.00) scale(1.143,1)" font-size="25.2">/</text>
<text transform="translate(314.84,92.00) scale(1.049,1)" font-size="25.2">2</text>
<text transform="translate(329.11,91.10) scale(0.991,1)" font-size="21.6">)</text>
<text transform="translate(183.84,141.00) scale(1.036,1)" font-size="25.2" font-style="italic">F</text>
<text transform="translate(201.06,140.10) scale(0.991,1)" font-size="21.6">(</text>
<text transform="translate(208.13,141.00) scale(0.979,1)" font-size="23.4">Δ</text>
<text transform="translate(221.32,146.00) scale(1.047,1)" font-size="18.5">776</text>
<text transform="translate(251.77,141.00) scale(1.172,1)" font-size="25.2">,</text>
<text transform="translate(264.12,141.00) scale(1.061,1)" font-size="25.2" font-style="italic">r</text>
<text transform="translate(275.13,141.00) scale(1.168,1)" font-size="25.2">=</text>
<text transform="translate(290.91,141.00) scale(0.986,1)" font-size="25.2" font-style="italic">w</text>
<text transform="translate(308.10,140.10) scale(1.009,1)" font-size="21.6">)</text>
<text transform="translate(183.84,191.00) scale(1.036,1)" font-size="25.2" font-style="italic">F</text>
<text transform="translate(201.06,190.10) scale(0.991,1)" font-size="21.6">(</text>
<text transform="translate(208.13,191.00) scale(0.979,1)" font-size="23.4">Δ</text>
<text transform="translate(221.32,196.00) scale(1.047,1)" font-size="18.5">776</text>
<text transform="translate(252.58,190.10) scale(1.027,1)" font-size="21.6">)</text>
<text transform="translate(502.90,211.70) scale(1.014,1)" font-size="28.5">Δ</text>
<text transform="translate(521.48,211.70) scale(1.037,1)" font-size="29.6" font-style="italic">ν</text>
<text transform="translate(534.95,211.70) scale(1.003,1)" font-size="26">(</text>
<text transform="translate(542.82,211.70) scale(1.072,1)" font-size="27.6" font-style="italic">ω</text>
<text transform="translate(563.76,211.70) scale(1.003,1)" font-size="26">)</text>
</g>
<line x1="503" y1="185.9" x2="536.7" y2="185.9" stroke="#000" stroke-width="1.3"/>
<line x1="404" y1="227.7" x2="444.4" y2="227.7" stroke="#000" stroke-width="1.3"/><path d="M460.5,227.7 L437.5,220.7 Q443.5,227.7 437.5,234.7 Z" fill="#000"/>
<line x1="539.5" y1="227.7" x2="499.1" y2="227.7" stroke="#000" stroke-width="1.3"/><path d="M483,227.7 L506,220.7 Q500,227.7 506,234.7 Z" fill="#000"/>
</svg>
</body></html>
